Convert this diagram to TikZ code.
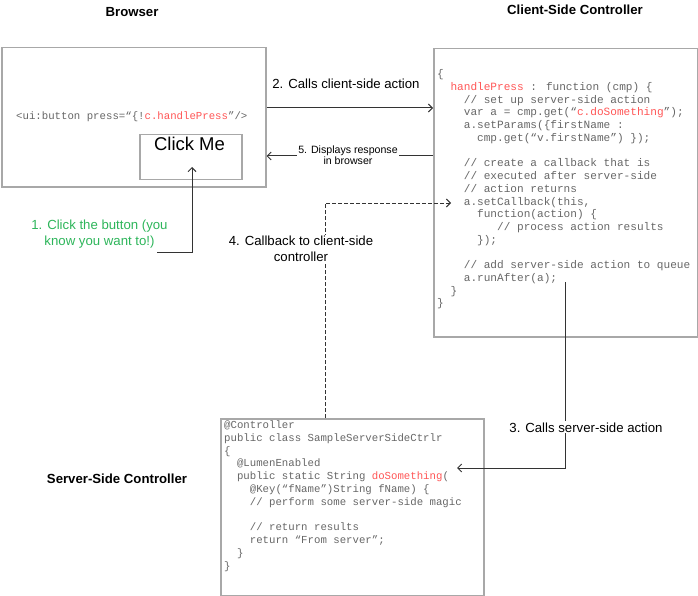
\documentclass[tikz,border=0pt]{standalone}
\usepackage{fontspec}
\setmainfont{Liberation Sans}
\newfontfamily\codefont{Liberation Mono}
\usetikzlibrary{arrows.meta}
\definecolor{codegray}{HTML}{666666}
\definecolor{codered}{HTML}{FF5555}
\definecolor{stepgreen}{HTML}{2DB55A}
\definecolor{boxgray}{HTML}{A8A8A8}
\definecolor{arrgray}{HTML}{333333}
\newcommand\ind[1]{\hspace*{#1\dimexpr 0.6em\relax}}
\newcommand\rd[1]{\textcolor{codered}{#1}}
\begin{document}
\begin{tikzpicture}[x=1pt,y=-1pt,
  box/.style={draw=boxgray, line width=1.5pt, inner sep=0pt, anchor=north west},
  arr/.style={draw=arrgray, line width=1pt, -{Straight Barb[length=4pt,width=8pt]}},
  ccode/.style={font=\codefont\fontsize{11.1}{12.7}\selectfont, text=codegray, anchor=base west, inner sep=0pt},
  scode/.style={font=\codefont\fontsize{10.7}{12.8}\selectfont, text=codegray, anchor=base west, inner sep=0pt},
  title/.style={font=\bfseries\fontsize{13.2}{15}\selectfont, anchor=base, inner sep=0pt},
  lbl/.style={font=\fontsize{13.2}{16}\selectfont, align=center, inner sep=1pt},
  lblsmall/.style={font=\fontsize{10.6}{11}\selectfont, align=center, inner sep=1.5pt}]
\useasboundingbox (0,0) rectangle (698,596);

% titles
\node[title] (tbrowser) at (132,16.7) {Browser};
\node[title] (tclient) at (575,15) {Client-Side Controller};
\node[title] (tserver) at (117,483) {Server-Side Controller};

% boxes
\node[box, minimum width=264pt, minimum height=139pt] (browser) at (1,47) {};
\node[box, minimum width=264pt, minimum height=288pt] (client) at (433,48) {};
\node[box, minimum width=263pt, minimum height=177pt] (server) at (220,418) {};
\node[box, minimum width=102pt, minimum height=45pt] (btn) at (139,134) {};

% browser content
\node[scode] (uicode) at (16,119.5) {<ui:button press=“\{!\rd{c.handlePress}”/>};
\node[font=\fontsize{18.5}{20}\selectfont, anchor=base, inner sep=0pt] (clicktxt) at (189.5,151) {Click Me};

% client code
\node[ccode] (c1) at (437,77.8) {\{};
\node[ccode] (c2) at (437,90.5) {\ind{2}\rd{handlePress} : function (cmp) \{};
\node[ccode] (c3) at (437,103.2) {\ind{4}// set up server-side action};
\node[ccode] (c4) at (437,116.0) {\ind{4}var a = cmp.get(“\rd{c.doSomething}”);};
\node[ccode] (c5) at (437,128.7) {\ind{4}a.setParams(\{firstName :};
\node[ccode] (c6) at (437,141.4) {\ind{6}cmp.get(“v.firstName”) \});};
\node[ccode] (c8) at (437,166.8) {\ind{4}// create a callback that is};
\node[ccode] (c9) at (437,179.6) {\ind{4}// executed after server-side};
\node[ccode] (c10) at (437,192.3) {\ind{4}// action returns};
\node[ccode] (c11) at (437,205.0) {\ind{4}a.setCallback(this,};
\node[ccode] (c12) at (437,217.7) {\ind{6}function(action) \{};
\node[ccode] (c13) at (437,230.4) {\ind{9}// process action results};
\node[ccode] (c14) at (437,243.2) {\ind{6}\});};
\node[ccode] (c16) at (437,268.6) {\ind{4}// add server-side action to queue};
\node[ccode] (c17) at (437,281.3) {\ind{4}a.runAfter(a);};
\node[ccode] (c18) at (437,294.0) {\ind{2}\}};
\node[ccode] (c19) at (437,306.8) {\}};

% server code
\node[scode] (s1) at (224,428.5) {@Controller};
\node[scode] (s2) at (224,441.3) {public class SampleServerSideCtrlr};
\node[scode] (s3) at (224,454.1) {\{};
\node[scode] (s4) at (224,466.9) {\ind{2}@LumenEnabled};
\node[scode] (s5) at (224,479.7) {\ind{2}public static String \rd{doSomething}(};
\node[scode] (s6) at (224,492.5) {\ind{4}@Key(“fName”)String fName) \{};
\node[scode] (s7) at (224,505.3) {\ind{4}// perform some server-side magic};
\node[scode] (s9) at (224,530.9) {\ind{4}// return results};
\node[scode] (s10) at (224,543.7) {\ind{4}return “From server”;};
\node[scode] (s11) at (224,556.5) {\ind{2}\}};
\node[scode] (s12) at (224,569.3) {\}};

% helper coordinates
\coordinate (y2) at (0,108);
\coordinate (y5) at (0,156);
\coordinate (st1) at (157,252);
\coordinate (tp1) at (192,167);
\coordinate (k4) at (325,203);
\coordinate (tp4) at (451,203);
\coordinate (st3) at (565,282);
\coordinate (tp3) at (457,468);

% connectors
\draw[arr] (browser.east |- y2) -- (client.west |- y2);
\draw[arr] (client.west |- y5) -- (browser.east |- y5);
\draw[arr] (st1) -| (tp1);
\draw[arr, dash pattern=on 4pt off 2pt] (server.north -| k4) -- (k4) -- (tp4);
\draw[arr] (st3) |- (tp3);

% labels
\node[lbl, anchor=base] (l2) at (346,89) {2. Calls client-side action};
\node[lblsmall, fill=white] (l5) at (348,155.2) {5. Displays response\\in browser};
\node[lbl, text=stepgreen] (l1) at (99.5,234) {1. Click the button (you\\know you want to!)};
\node[lbl, fill=white] (l4) at (301,248.8) {4. Callback to client-side\\controller};
\node[lbl, fill=white, anchor=base] (l3) at (586,432) {3. Calls server-side action};
\end{tikzpicture}
\end{document}
